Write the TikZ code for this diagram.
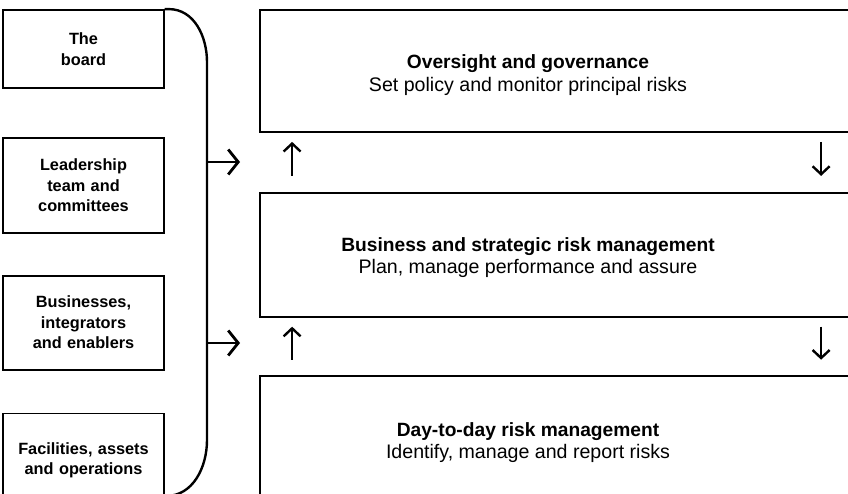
\documentclass[tikz,border=0pt]{standalone}
\usepackage{fontspec}
\setmainfont{Liberation Sans}
\usetikzlibrary{arrows.meta, positioning, calc}
\tikzset{
    unitbox/.style={rectangle, draw=black, line width=1.8pt, fill=white, minimum width=157pt, text width=154pt, align=center, font=\fontsize{16.3}{20.5}\selectfont\bfseries},
    tierbox/.style={rectangle, draw=black, line width=1.8pt, fill=white, minimum width=620pt},
    tiertext/.style={align=center, font=\fontsize{19.6}{22.5}\selectfont},
    bracket/.style={line width=2.4pt},
    feed/.style={line width=2.8pt, -{Straight Barb[length=10pt, width=25pt, line width=2.8pt]}},
    flow/.style={line width=2.4pt, -{Straight Barb[length=8pt, width=17pt, line width=2.4pt]}}
}

\begin{document}
\begin{tikzpicture}[x=1pt, y=-1pt]
    \useasboundingbox (0,0) rectangle (848,494);
    \clip (0,0) rectangle (848,494);

    % left column
    \node (board) [unitbox, minimum height=78pt] at (83.5,49) {The\\board};
    \node (leaders) [unitbox, minimum height=95pt, below=48pt of board] {Leadership\\team and\\committees};
    \node (units) [unitbox, minimum height=94pt, below=41pt of leaders] {Businesses,\\integrators\\and enablers};
    \node (sites) [unitbox, minimum height=94pt, below=42pt of units] {Facilities, assets\\and operations};

    % right column
    \node (oversight) [tierbox, minimum height=122pt, label={[tiertext, xshift=-42pt, yshift=-4pt]center:{\textbf{\fontsize{19.2}{22.5}\selectfont Oversight and governance}\\Set policy and monitor principal risks}}] at (570,71) {};
    \node (strategic) [tierbox, minimum height=124pt, below=59pt of oversight, label={[tiertext, xshift=-42pt, yshift=-3pt]center:{\textbf{\fontsize{19.2}{22.5}\selectfont Business and strategic risk management}\\Plan, manage performance and assure}}] {};
    \node (daily) [tierbox, minimum height=134pt, below=57pt of strategic, label={[tiertext, xshift=-42pt, yshift=0pt]center:{\textbf{\fontsize{19.2}{22.5}\selectfont Day-to-day risk management}\\Identify, manage and report risks}}] {};

    % bracket
    \coordinate (bendtop) at (207,62);
    \coordinate (bendbot) at (207,440);
    \coordinate (tail) at (166,496);
    \coordinate (feedA) at (207,162);
    \coordinate (feedB) at (207,343);
    \coordinate (tipA) at (240,162);
    \coordinate (tipB) at (240,343);
    \draw [bracket] (board.north east) -- ++(4,0) to[out=0, in=90] (bendtop) -- (bendbot) to[out=-90, in=0] (tail);
    \draw [feed] (feedA) -- (tipA);
    \draw [feed] (feedB) -- (tipB);

    % up and down between tiers
    \draw [flow] ($(strategic.north west)+(33,-16)$) -- ($(oversight.south west)+(33,9)$);
    \draw [flow] ($(oversight.south west)+(562,9)$) -- ($(strategic.north west)+(562,-16)$);
    \draw [flow] ($(daily.north west)+(33,-15)$) -- ($(strategic.south west)+(33,9)$);
    \draw [flow] ($(strategic.south west)+(562,9)$) -- ($(daily.north west)+(562,-15)$);
\end{tikzpicture}
\end{document}
